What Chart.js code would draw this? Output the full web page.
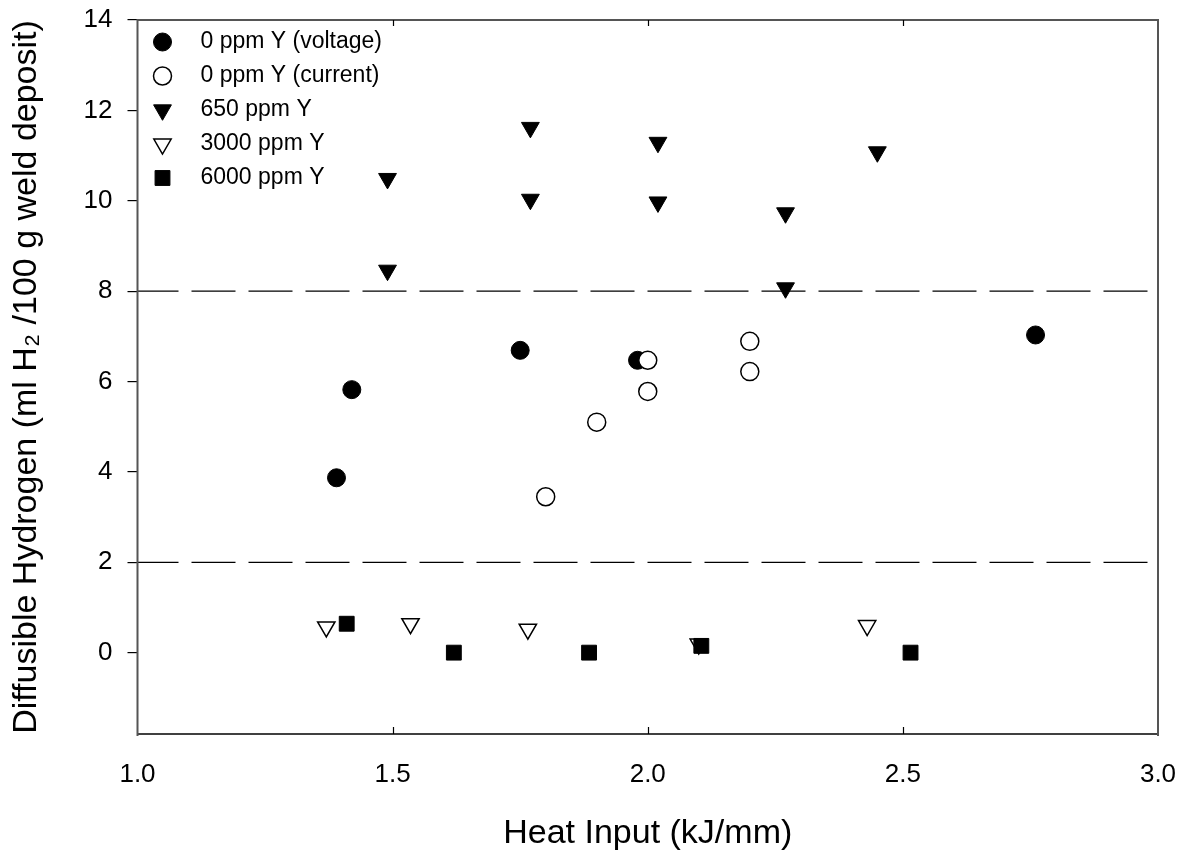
<!DOCTYPE html>
<html>
<head>
<meta charset="utf-8">
<script src="https://cdn.jsdelivr.net/npm/chart.js@4.4.1/dist/chart.umd.min.js"></script>
<style>
	html, body { margin: 0; padding: 0; background: #fff; }
</style>
</head>
<body>
<canvas id="chart" width="1185" height="852"></canvas>
<script>
// heat input (kJ/mm) and diffusible hydrogen (ml H2 / 100 g) per series
const voltageX = [1.39, 1.42, 1.75, 1.98, 2.76];
const voltageY = [3.87, 5.82, 6.69, 6.47, 7.03];
const currentX = [1.80, 1.90, 2.00, 2.00, 2.20, 2.20];
const currentY = [3.45, 5.10, 5.78, 6.47, 6.89, 6.22];
const y650X = [1.49, 1.49, 1.77, 1.77, 2.02, 2.02, 2.27, 2.27, 2.45];
const y650Y = [10.49, 8.46, 11.62, 10.03, 11.29, 9.97, 9.73, 8.07, 11.08];
const y3000X = [1.37, 1.535, 1.765, 2.10, 2.43];
const y3000Y = [0.57, 0.64, 0.52, 0.19, 0.60];
const y6000X = [1.41, 1.62, 1.885, 2.105, 2.515];
const y6000Y = [0.64, 0.0, 0.0, 0.15, 0.0];

const limitLines = [8, 2];
const xTicks = [1.0, 1.5, 2.0, 2.5, 3.0];
const yTicks = [0, 2, 4, 6, 8, 10, 12, 14];

const FONT = '"Liberation Sans", Arial, Helvetica, sans-serif';

function points(xs, ys) {
	return xs.map((x, i) => ({x: x, y: ys[i]}));
}

function markerSet(label, xs, ys, style, open, radius, rotation, order) {
	return {
		label: label,
		data: points(xs, ys),
		pointStyle: style,
		pointRadius: radius,
		pointHoverRadius: radius,
		pointRotation: rotation,
		pointBackgroundColor: open ? '#fff' : '#000',
		pointBorderColor: '#000',
		pointBorderWidth: open ? 1.5 : 1,
		inLegend: true,
		order: order
	};
}

const datasets = [
	markerSet('0 ppm Y (voltage)', voltageX, voltageY, 'circle', false, 9, 0, 5),
	markerSet('0 ppm Y (current)', currentX, currentY, 'circle', true, 9, 0, 4),
	markerSet('650 ppm Y', y650X, y650Y, 'triangle', false, 10.3, 180, 3),
	markerSet('3000 ppm Y', y3000X, y3000Y, 'triangle', true, 10, 180, 2),
	markerSet('6000 ppm Y', y6000X, y6000Y, 'rect', false, 10.5, 0, 1)
];

limitLines.forEach(function(level) {
	datasets.push({
		label: 'limit ' + level,
		data: [{x: xTicks[0], y: level}, {x: xTicks[xTicks.length - 1], y: level}],
		showLine: true,
		borderColor: '#000',
		borderWidth: 1.3,
		borderDash: [44, 13],
		borderDashOffset: 3,
		pointRadius: 0,
		pointHoverRadius: 0,
		inLegend: false,
		order: 10
	});
});

//Frame round the plot, inward ticks on the x axis and the legend in the corner
const framePlugin = {
	id: 'frame',
	afterDatasetsDraw(chart) {
		const ctx = chart.ctx;
		const area = chart.chartArea;
		const xScale = chart.scales.x;

		ctx.save();
		ctx.lineWidth = 1.5;
		ctx.strokeStyle = '#000';
		ctx.beginPath();
		ctx.moveTo(area.left, area.bottom);
		ctx.lineTo(area.right, area.bottom);
		ctx.stroke();

		ctx.strokeStyle = '#555';
		ctx.lineWidth = 2;
		ctx.beginPath();
		ctx.moveTo(area.left, area.bottom + 2);
		ctx.lineTo(area.left, area.top);
		ctx.lineTo(area.right, area.top);
		ctx.lineTo(area.right, area.bottom + 2);
		ctx.stroke();

		ctx.strokeStyle = '#000';
		ctx.lineWidth = 1.2;
		for (let i = 1; i < xTicks.length - 1; i++) {
			const px = Math.round(xScale.getPixelForValue(xTicks[i])) + 0.5;
			ctx.beginPath();
			ctx.moveTo(px, area.bottom);
			ctx.lineTo(px, area.bottom - 7);
			ctx.moveTo(px, area.top);
			ctx.lineTo(px, area.top + 6);
			ctx.stroke();
		}
		ctx.restore();

		let row = 0;
		chart.data.datasets.forEach(function(ds) {
			if (!ds.inLegend) {
				return;
			}
			const y = area.top + 22 + row * 34;
			ctx.save();
			ctx.fillStyle = ds.pointBackgroundColor;
			ctx.strokeStyle = ds.pointBorderColor;
			ctx.lineWidth = ds.pointBorderWidth;
			Chart.helpers.drawPoint(ctx, {
				pointStyle: ds.pointStyle,
				rotation: ds.pointRotation,
				radius: ds.pointRadius,
				borderWidth: ds.pointBorderWidth
			}, area.left + 25, y);
			ctx.fillStyle = '#000';
			ctx.font = '23px ' + FONT;
			ctx.textBaseline = 'middle';
			ctx.textAlign = 'left';
			ctx.fillText(ds.label, area.left + 63, y);
			ctx.restore();
			row++;
		});
	}
};

new Chart(document.getElementById('chart'), {
	type: 'scatter',
	data: {datasets: datasets},
	options: {
		responsive: false,
		animation: false,
		devicePixelRatio: 1,
		layout: {padding: {top: 20, right: 27, left: 0, bottom: 0}},
		plugins: {
			legend: {display: false},
			tooltip: {enabled: false}
		},
		scales: {
			x: {
				type: 'linear',
				min: xTicks[0],
				max: xTicks[xTicks.length - 1],
				afterFit: function(scale) {
					scale.height = 118;
					scale.paddingLeft = 0;
					scale.paddingRight = 0;
				},
				afterBuildTicks: function(scale) { scale.ticks = xTicks.map(v => ({value: v})); },
				grid: {display: false, drawTicks: false},
				border: {display: false},
				ticks: {
					padding: 25,
					color: '#000',
					font: {family: FONT, size: 26},
					callback: v => v.toFixed(1)
				},
				title: {
					display: true,
					text: 'Heat Input (kJ/mm)',
					color: '#000',
					font: {family: FONT, size: 34, lineHeight: 1},
					padding: {top: 0, bottom: 1}
				}
			},
			y: {
				type: 'linear',
				min: -1.8,
				max: 14,
				afterFit: function(scale) {
					scale.width = 137.5;
					scale.paddingTop = 0;
					scale.paddingBottom = 0;
				},
				afterBuildTicks: function(scale) { scale.ticks = yTicks.map(v => ({value: v})); },
				grid: {drawOnChartArea: false, drawTicks: true, tickLength: 10, color: '#000', lineWidth: 1.2},
				border: {display: false},
				ticks: {
					padding: 15,
					color: '#000',
					font: {family: FONT, size: 26},
					callback: v => String(v)
				},
				title: {
					display: true,
					text: 'Diffusible Hydrogen (ml H\u2082 /100 g weld deposit)',
					color: '#000',
					font: {family: FONT, size: 34, lineHeight: 1},
					padding: {top: 10, bottom: 0}
				}
			}
		}
	},
	plugins: [framePlugin]
});
</script>
</body>
</html>
